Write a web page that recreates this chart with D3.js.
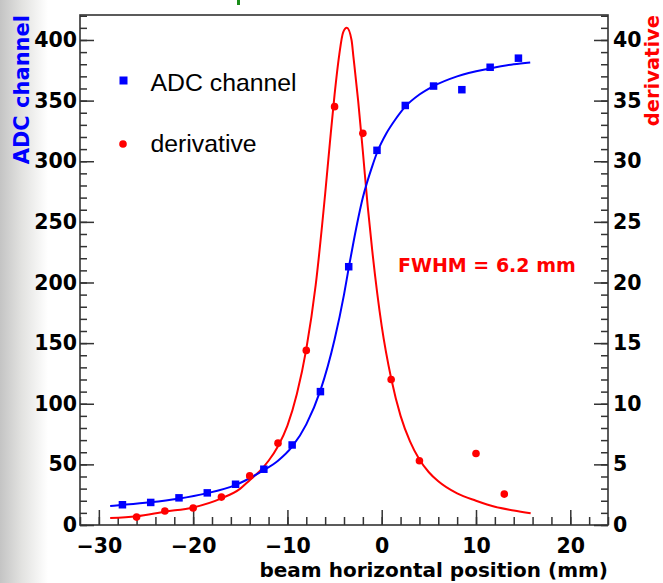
<!DOCTYPE html>
<html><head><meta charset="utf-8">
<script src="https://cdn.jsdelivr.net/npm/d3@7"></script>
<style>
html,body{margin:0;padding:0;background:#fff;}
svg{display:block;}
</style></head>
<body>
<svg id="chart" width="663" height="583"></svg>
<script>
// ---- data ----
const adcX = [-27.5,-24.5,-21.5,-18.5,-15.5,-12.5,-9.5,-6.5,-3.5,-0.5,2.5,5.5,8.5,11.5,14.5];
const adcY = [16.7,18.6,22.4,26.5,33.6,46,66,110,213,309,346,362,359,377.5,385];
const derX = [-26,-23,-20,-17,-14,-11,-8,-5,-2,1,4,10,13];
const derY = [0.65,1.15,1.4,2.3,4.05,6.75,14.4,34.5,32.3,12.0,5.3,5.9,2.55];
// fitted curves
const adcFitX = [-28.8,-27.6,-24.6,-21.6,-18.6,-15.6,-12.6,-11,-9.5,-8,-6.5,-5,-4,-3.5,-3,-2,-1,-0.5,0.5,1.5,2.5,4,5.5,8,11.5,14,15.75];
const adcFitY = [15.7,16.5,18.7,21.7,26.1,32.7,44.8,53,64.6,83,111,153,190,212,233,270,296,307,323,335,345,355,362,370,376.5,380,381.5];
const derFitX = [-28.8,-26,-23,-20,-17,-15,-14,-13,-12,-11,-10,-9,-8,-7,-6,-5.5,-5,-4.5,-4.1,-3.7,-3.2,-3,-2.5,-2,-1.5,-1,0,1,2,3,4,5,6,8,10,12,14,15.8];
const derFitY = [0.57,0.72,1.1,1.45,2.2,3.0,3.7,4.4,5.3,6.5,8.2,10.8,14.5,19.8,27.3,31.5,35.5,38.8,40.6,41.0,40.0,38.6,35.0,30.8,26.4,22.6,16.4,12.1,9.0,6.9,5.4,4.35,3.6,2.6,2.0,1.5,1.2,0.97];
const xTickLabels = [-30,-20,-10,0,10,20];
const yLeftTickLabels = [0,50,100,150,200,250,300,350,400];
const yRightTickLabels = [0,5,10,15,20,25,30,35,40];
const legendLabels = ["ADC channel","derivative"];
const fwhmLabel = "FWHM = 6.2 mm";
const xTitle = "beam horizontal position (mm)";
const yLeftTitle = "ADC channel";
const yRightTitle = "derivative";

// ---- layout ----
const L = 80, R = 608, T = 15, B = 525;
const svg = d3.select("#chart");
const BLUE = "#0000ff", RED = "#ff0000";
const BOLD = "'DejaVu Sans', sans-serif";

// background blur at the left edge
const defs = svg.append("defs");
const g1 = defs.append("linearGradient").attr("id","bg").attr("x1","0").attr("x2","1");
g1.append("stop").attr("offset","0").attr("stop-color","#c4c4c4");
g1.append("stop").attr("offset","0.45").attr("stop-color","#e2e2e0");
g1.append("stop").attr("offset","1").attr("stop-color","#ffffff");
svg.append("rect").attr("x",0).attr("y",0).attr("width",48).attr("height",583).attr("fill","url(#bg)");
svg.append("rect").attr("x",L).attr("y",T).attr("width",R-L).attr("height",B-T).attr("fill","#fff");
// green remnant at top
svg.append("rect").attr("x",237).attr("y",0).attr("width",3).attr("height",5).attr("fill","#1a8c1a");

const x = d3.scaleLinear().domain([-32,24]).range([L,R]);
const yL = d3.scaleLinear().domain([0,420.6]).range([B,T]);
const yR = d3.scaleLinear().domain([0,42.06]).range([B,T]);

function styleAxis(g){
  g.select(".domain").remove();
  g.selectAll("line").attr("stroke","#333").attr("stroke-width",1.5);
  g.selectAll("text").attr("font-family",BOLD).attr("font-weight","bold").attr("font-size","20.5px").attr("fill","#000");
}
// minor ticks
const xMinor = d3.range(-32,24.01,2);
const yLMinor = d3.range(0,420.6,10);
const yRMinor = d3.range(0,42.06,1);
svg.append("g").attr("transform",`translate(0,${B})`)
  .call(d3.axisBottom(x).tickValues(xMinor).tickSize(-8).tickFormat("")).call(styleAxis);
svg.append("g").attr("transform",`translate(${L},0)`)
  .call(d3.axisLeft(yL).tickValues(yLMinor).tickSize(-7).tickFormat("")).call(styleAxis);
svg.append("g").attr("transform",`translate(${R},0)`)
  .call(d3.axisRight(yR).tickValues(yRMinor).tickSize(-7).tickFormat("")).call(styleAxis);
// major ticks + labels
svg.append("g").attr("transform",`translate(0,${B})`)
  .call(d3.axisBottom(x).tickValues(xTickLabels).tickSize(-15).tickPadding(13).tickFormat(d3.format("d"))).call(styleAxis);
svg.append("g").attr("transform",`translate(${L},0)`)
  .call(d3.axisLeft(yL).tickValues(yLeftTickLabels).tickSize(-14).tickPadding(3).tickFormat(d3.format("d"))).call(styleAxis);
svg.append("g").attr("transform",`translate(${R},0)`)
  .call(d3.axisRight(yR).tickValues(yRightTickLabels).tickSize(-14).tickPadding(5).tickFormat(d3.format("d"))).call(styleAxis);

// frame
svg.append("rect").attr("x",L).attr("y",T).attr("width",R-L).attr("height",B-T)
  .attr("fill","none").attr("stroke","#333").attr("stroke-width",1.6);

// curves
const lineL = d3.line().x((d,i)=>x(adcFitX[i])).y(d=>yL(d)).curve(d3.curveMonotoneX);
const lineR = d3.line().x((d,i)=>x(derFitX[i])).y(d=>yR(d)).curve(d3.curveMonotoneX);
svg.append("path").attr("d",lineR(derFitY)).attr("fill","none").attr("stroke",RED).attr("stroke-width",2);
svg.append("path").attr("d",lineL(adcFitY)).attr("fill","none").attr("stroke",BLUE).attr("stroke-width",2);

// points
const sq = 7.5;
svg.append("g").selectAll("rect").data(adcY).join("rect")
  .attr("x",(d,i)=>x(adcX[i])-sq/2).attr("y",d=>yL(d)-sq/2)
  .attr("width",sq).attr("height",sq).attr("fill",BLUE);
svg.append("g").selectAll("circle").data(derY).join("circle")
  .attr("cx",(d,i)=>x(derX[i])).attr("cy",d=>yR(d)).attr("r",3.8).attr("fill",RED);

// legend
svg.append("rect").attr("x",123.5-4).attr("y",80.5-4).attr("width",8).attr("height",8).attr("fill",BLUE);
svg.append("circle").attr("cx",123).attr("cy",144).attr("r",3.8).attr("fill",RED);
svg.append("text").attr("x",150.5).attr("y",91).text(legendLabels[0])
  .attr("font-family","'Liberation Sans', Arial, sans-serif").attr("font-size","24.8px").attr("fill","#000");
svg.append("text").attr("x",150.5).attr("y",152).text(legendLabels[1])
  .attr("font-family","'Liberation Sans', Arial, sans-serif").attr("font-size","24.8px").attr("fill","#000");

// FWHM
svg.append("text").attr("x",398).attr("y",272).text(fwhmLabel)
  .attr("font-family",BOLD).attr("font-weight","bold").attr("font-size","19px").attr("fill",RED);

// axis titles
svg.append("text").attr("x",R).attr("y",577).attr("text-anchor","end").text(xTitle)
  .attr("font-family",BOLD).attr("font-weight","bold").attr("font-size","20px").attr("fill","#000");
svg.append("text").attr("transform",`translate(29,${T}) rotate(-90)`).attr("text-anchor","end").text(yLeftTitle)
  .attr("font-family",BOLD).attr("font-weight","bold").attr("font-size","21px").attr("fill",BLUE);
svg.append("text").attr("transform",`translate(659,${T}) rotate(-90)`).attr("text-anchor","end").text(yRightTitle)
  .attr("font-family",BOLD).attr("font-weight","bold").attr("font-size","19.5px").attr("fill",RED);
</script>
</body></html>
